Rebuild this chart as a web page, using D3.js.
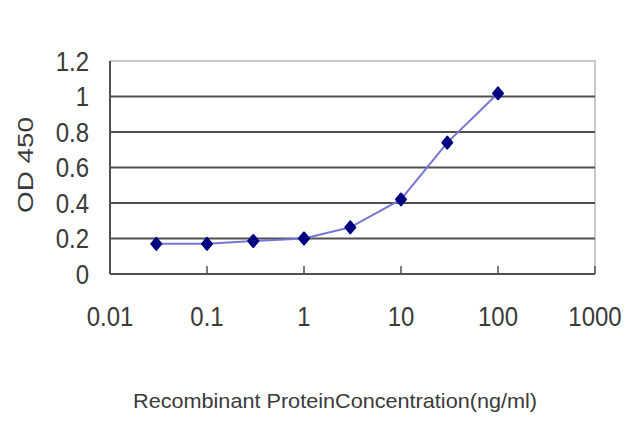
<!DOCTYPE html>
<html><head><meta charset="utf-8">
<script src="https://cdn.jsdelivr.net/npm/d3@7"></script>
<style>body{margin:0;background:#fff}svg{display:block}</style>
</head><body>
<script>
const concentrations = [0.03, 0.1, 0.3, 1, 3, 10, 30, 100];
const odValues = [0.17, 0.17, 0.186, 0.20, 0.263, 0.42, 0.74, 1.018];
const xTicks = [0.01, 0.1, 1, 10, 100, 1000];
const xTickLabels = ["0.01", "0.1", "1", "10", "100", "1000"];
const yTicks = [0, 0.2, 0.4, 0.6, 0.8, 1, 1.2];
const yTickLabels = ["0", "0.2", "0.4", "0.6", "0.8", "1", "1.2"];

const W = 640, H = 427;
const m = {left:110, right:595, top:61, bottom:274};
const svg = d3.select("body").append("svg").attr("width", W).attr("height", H);
const x = d3.scaleLog().domain([0.01, 1000]).range([m.left, m.right]);
const y = d3.scaleLinear().domain([0, 1.2]).range([m.bottom, m.top]);
const font = "'Liberation Sans', Arial, sans-serif";
const SY = 1.15;

// border top/right light
svg.append("path").attr("d", `M${m.left},${m.top}H${m.right}V${m.bottom}`)
  .attr("fill","none").attr("stroke","#b8b8b8").attr("stroke-width",1.5);

// gridlines
svg.append("g").selectAll("line").data(yTicks.filter(d => d > 0 && d < 1.2)).join("line")
  .attr("x1", m.left).attr("x2", m.right)
  .attr("y1", d => y(d)).attr("y2", d => y(d))
  .attr("stroke", "#505050").attr("stroke-width", 2);

// axes lines
svg.append("line").attr("x1", m.left).attr("x2", m.left).attr("y1", m.top).attr("y2", m.bottom)
  .attr("stroke","#505050").attr("stroke-width",2);
svg.append("line").attr("x1", m.left).attr("x2", m.right).attr("y1", m.bottom).attr("y2", m.bottom)
  .attr("stroke","#505050").attr("stroke-width",2);

// x ticks (inward)
svg.append("g").selectAll("line").data(xTicks.slice(1)).join("line")
  .attr("x1", d => x(d)).attr("x2", d => x(d)).attr("y1", m.bottom).attr("y2", m.bottom - 8)
  .attr("stroke","#505050").attr("stroke-width",1.5);

// y tick labels
svg.append("g").selectAll("text").data(yTicks).join("text")
  .attr("transform", d => `translate(89,${y(d)}) scale(1,${SY})`).attr("dy", "0.36em")
  .attr("text-anchor","end").attr("font-family",font).attr("font-size",24).attr("fill","#3a3a3a")
  .text((d,i) => yTickLabels[i]);

// x tick labels
svg.append("g").selectAll("text").data(xTicks).join("text")
  .attr("transform", d => `translate(${x(d)},316) scale(1,${SY})`).attr("dy", "0.36em")
  .attr("text-anchor","middle").attr("font-family",font).attr("font-size",24).attr("fill","#3a3a3a")
  .text((d,i) => xTickLabels[i]);

// axis titles
svg.append("text").attr("transform","translate(25,165) rotate(-90)")
  .attr("text-anchor","middle").attr("dy","0.36em").attr("font-family",font).attr("font-size",22).attr("fill","#3a3a3a")
  .attr("textLength", 96).attr("lengthAdjust","spacingAndGlyphs")
  .text("OD 450");
svg.append("text").attr("transform", `translate(335,401) scale(1,${SY})`).attr("dy","0.36em")
  .attr("text-anchor","middle").attr("font-family",font).attr("font-size",18).attr("fill","#3a3a3a")
  .attr("textLength", 404).attr("lengthAdjust","spacingAndGlyphs")
  .text("Recombinant ProteinConcentration(ng/ml)");

// line
const line = d3.line().x((d,i) => x(concentrations[i])).y(d => y(d));
svg.append("path").datum(odValues).attr("d", line)
  .attr("fill","none").attr("stroke","#7676d4").attr("stroke-width",2);

// markers
const diamond = { draw(ctx, size) { const w = 5, h = 6; ctx.moveTo(0,-h); ctx.lineTo(w,0); ctx.lineTo(0,h); ctx.lineTo(-w,0); ctx.closePath(); } };
svg.append("g").selectAll("path").data(odValues).join("path")
  .attr("transform",(d,i) => `translate(${x(concentrations[i])},${y(d)})`)
  .attr("d", d3.symbol(diamond, 100)())
  .attr("fill","#000080").attr("stroke","#000080").attr("stroke-width",2).attr("stroke-linejoin","round");
</script>
</body></html>
